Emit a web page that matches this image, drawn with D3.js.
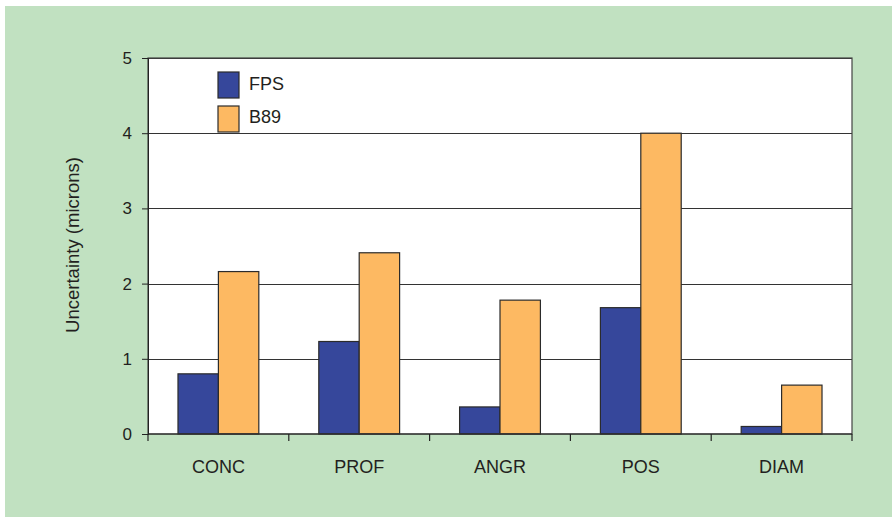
<meta charset="utf-8">
<style>
body { margin: 0; background: #fff; }
text { font-family: "Liberation Sans", Arial, sans-serif; fill: #231f20; }
</style>
<body>
<div id="chart"></div>
<script src="https://cdn.jsdelivr.net/npm/d3@7"></script>
<script>
// data
var categories = ["CONC", "PROF", "ANGR", "POS", "DIAM"];
var seriesNames = ["FPS", "B89"];
var fpsValues = [0.80, 1.23, 0.36, 1.68, 0.10];
var b89Values = [2.16, 2.41, 1.78, 4.00, 0.65];
var yTicks = [0, 1, 2, 3, 4, 5];
var colors = ["#36479b", "#fdb962"];

var W = 892, H = 517;
var margin = {top: 58, right: 40, bottom: 83, left: 148};
var width = 852 - margin.left, height = 434 - margin.top;

var svg = d3.select("#chart").append("svg")
    .attr("width", W).attr("height", H);

// green panel
svg.append("rect").attr("x", 5).attr("y", 6).attr("width", W - 5).attr("height", H - 6)
    .attr("fill", "#c1e1c1");

var g = svg.append("g").attr("transform", "translate(" + margin.left + "," + margin.top + ")");

var x0 = d3.scaleBand().domain(categories).range([0, width]).padding(0);
var bw = x0.bandwidth();
var x1 = d3.scaleBand().domain(seriesNames).range([bw * 0.213, bw * 0.787]).padding(0);
var y = d3.scaleLinear().domain([0, 5]).range([height, 0]);

g.append("rect").attr("width", width).attr("height", height).attr("fill", "#fff");

// gridlines
g.selectAll(".grid").data(yTicks.slice(1)).enter().append("line")
    .attr("x1", 0).attr("x2", width)
    .attr("y1", function(d) { return Math.round(y(d)) + 0.5; })
    .attr("y2", function(d) { return Math.round(y(d)) + 0.5; })
    .attr("stroke", "#333").attr("stroke-width", 1);

// bars
var rows = categories.map(function(c, i) {
    return {cat: c, values: [fpsValues[i], b89Values[i]]};
});
var groups = g.selectAll(".grp").data(rows).enter().append("g")
    .attr("transform", function(d) { return "translate(" + x0(d.cat) + ",0)"; });
groups.selectAll("rect").data(function(d) {
        return d.values.map(function(v, j) { return {name: seriesNames[j], v: v, j: j}; });
    }).enter().append("rect")
    .attr("x", function(d) { return x1(d.name); })
    .attr("width", x1.bandwidth())
    .attr("y", function(d) { return y(d.v); })
    .attr("height", function(d) { return height - y(d.v); })
    .attr("fill", function(d) { return colors[d.j]; })
    .attr("stroke", "#2b2b2b").attr("stroke-width", 1.2);

// plot border
g.append("rect").attr("width", width).attr("height", height)
    .attr("fill", "none").attr("stroke", "#444").attr("stroke-width", 1.2);

// y axis
var yAxis = g.append("g")
    .call(d3.axisLeft(y).tickValues(yTicks).tickSize(6).tickPadding(10).tickFormat(d3.format("d")));
yAxis.select(".domain").attr("stroke", "#222");
yAxis.selectAll("line").attr("stroke", "#222");
yAxis.selectAll("text").style("font-size", "17px").attr("fill", "#231f20")
    .style("font-family", "Liberation Sans, Arial, sans-serif");

// x axis: ticks at band boundaries
var xAxis = g.append("g").attr("transform", "translate(0," + height + ")");
xAxis.append("line").attr("x1", 0).attr("x2", width).attr("stroke", "#222");
xAxis.selectAll(".tk").data(d3.range(categories.length + 1)).enter().append("line")
    .attr("x1", function(i) { return i * bw; }).attr("x2", function(i) { return i * bw; })
    .attr("y1", 0).attr("y2", 7).attr("stroke", "#222").attr("stroke-width", 1.2);
xAxis.selectAll(".lbl").data(categories).enter().append("text")
    .attr("x", function(d) { return x0(d) + bw / 2; })
    .attr("y", 39)
    .attr("text-anchor", "middle")
    .style("font-size", "18px")
    .text(function(d) { return d; });

// y label
svg.append("text")
    .attr("transform", "translate(79,245) rotate(-90)")
    .attr("text-anchor", "middle")
    .style("font-size", "18.5px")
    .text("Uncertainty (microns)");

// legend
var leg = svg.append("g").attr("transform", "translate(218,72)");
seriesNames.forEach(function(s, i) {
    leg.append("rect").attr("x", 0).attr("y", i * 34).attr("width", 21).attr("height", 26)
        .attr("fill", colors[i]).attr("stroke", "#2b2b2b").attr("stroke-width", 1.2);
    leg.append("text").attr("x", 31).attr("y", i * 33 + 18)
        .style("font-size", "18px").text(s);
});
</script>
</body>
